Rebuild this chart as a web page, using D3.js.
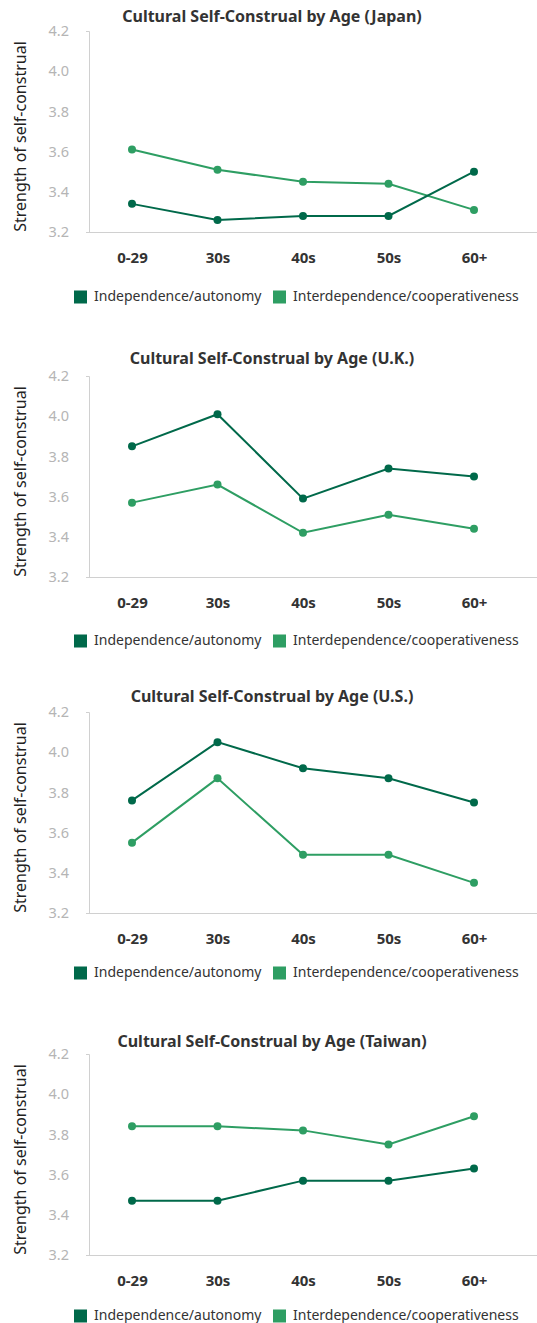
<!DOCTYPE html>
<html><head><meta charset="utf-8">
<script src="https://cdn.jsdelivr.net/npm/d3@7"></script>
<style>
html,body{margin:0;padding:0;background:#fff;}
svg{display:block;}
text{font-family:"Noto Sans","Open Sans",sans-serif;}
</style></head>
<body>
<script>
const ages = ["0-29","30s","40s","50s","60+"];
const yTicks = [3.2,3.4,3.6,3.8,4.0,4.2];
const seriesNames = ["Independence/autonomy","Interdependence/cooperativeness"];
const seriesColors = ["#00694a","#2e9e63"];
const countries = ["Japan","U.K.","U.S.","Taiwan"];
const independence = {
  "Japan":  [3.34,3.26,3.28,3.28,3.50],
  "U.K.":   [3.85,4.01,3.59,3.74,3.70],
  "U.S.":   [3.76,4.05,3.92,3.87,3.75],
  "Taiwan": [3.47,3.47,3.57,3.57,3.63]
};
const interdependence = {
  "Japan":  [3.61,3.51,3.45,3.44,3.31],
  "U.K.":   [3.57,3.66,3.42,3.51,3.44],
  "U.S.":   [3.55,3.87,3.49,3.49,3.35],
  "Taiwan": [3.84,3.84,3.82,3.75,3.89]
};

const W = 537, H = 1323;
const panelTops = [31,376,712,1054];
const titleOffsets = [13,16,14,11];
const legendOffsets = [65,64,60,61];
const plotH = 201;
const axisX = 89;

const svg = d3.select("body").append("svg").attr("width",W).attr("height",H);

const x = d3.scalePoint().domain(ages).range([132,474]);

countries.forEach((c,i)=>{
  const top = panelTops[i];
  const g = svg.append("g");
  const y = d3.scaleLinear().domain([3.2,4.2]).range([top+plotH, top]);

  // title
  g.append("text").attr("x",272).attr("y",top-titleOffsets[i]).attr("text-anchor","middle")
    .attr("dominant-baseline","middle")
    .attr("font-size",16).attr("font-weight","bold").attr("fill","#333")
    .text(`Cultural Self-Construal by Age (${c})`);

  // y axis
  const ya = g.append("g").attr("transform",`translate(${axisX},0)`)
    .call(d3.axisLeft(y).tickValues(yTicks).tickFormat(d3.format(".1f")).tickSizeInner(0).tickSizeOuter(3).tickPadding(20));
  ya.select(".domain").attr("stroke","#d0d0d0");
  ya.selectAll("text").attr("font-size",14.5).attr("fill","#b5b5b5").attr("font-family","'Noto Sans','Open Sans',sans-serif");

  // x axis line
  g.append("line").attr("x1",86).attr("x2",W).attr("y1",y(3.2)+0.5).attr("y2",y(3.2)+0.5).attr("stroke","#d0d0d0");
  // x labels
  const xa = g.append("g").attr("transform",`translate(0,${top+plotH})`)
    .call(d3.axisBottom(x).tickSize(0).tickPadding(20));
  xa.select(".domain").remove();
  xa.selectAll("text").attr("font-size",15).attr("font-weight","bold").attr("fill","#333").attr("font-family","'Noto Sans','Open Sans',sans-serif");

  // y title
  g.append("text").attr("transform",`translate(22,${top+plotH/2+5}) rotate(-90)`)
    .attr("text-anchor","middle").attr("dominant-baseline","middle")
    .attr("font-size",16).attr("fill","#222").text("Strength of self-construal");

  // series
  const data = [independence[c], interdependence[c]];
  const line = d3.line().x((d,j)=>x(ages[j])).y(d=>y(d));
  [1,0].forEach(s=>{
    g.append("path").attr("d",line(data[s])).attr("fill","none").attr("stroke",seriesColors[s]).attr("stroke-width",2);
    g.selectAll(null).data(data[s]).enter().append("circle")
      .attr("cx",(d,j)=>x(ages[j])).attr("cy",d=>y(d)).attr("r",4).attr("fill",seriesColors[s]);
  });

  // legend
  const ly = top+plotH+legendOffsets[i];
  const lx = [74,273];
  seriesNames.forEach((n,s)=>{
    g.append("rect").attr("x",lx[s]).attr("y",ly-6.5).attr("width",13).attr("height",13).attr("fill",seriesColors[s]);
    g.append("text").attr("x",lx[s]+20).attr("y",ly).attr("dominant-baseline","middle")
      .attr("font-size",14).attr("fill","#333").text(n);
  });
});
</script>
</body></html>
